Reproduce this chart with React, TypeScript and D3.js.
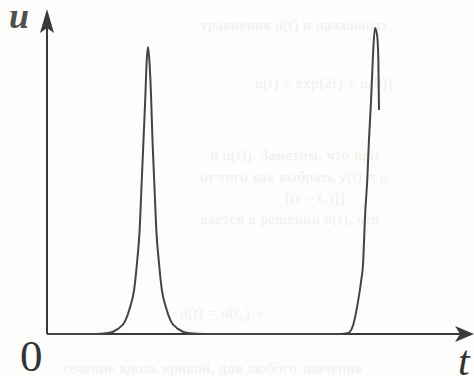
import { useEffect, useRef } from "react";
import * as d3 from "d3";

// pulse profile u(t) (t in 0..10, u in 0..1)
const pulseT = [
  0, 1.12, 1.43, 1.66, 1.83, 1.94, 2.04, 2.11, 2.17, 2.21, 2.26, 2.3, 2.33, 2.365,
  2.4, 2.44, 2.47, 2.52, 2.56, 2.62, 2.69, 2.79, 2.9, 3.07, 3.3, 3.7,
  6.86, 7.05, 7.17, 7.27, 7.36, 7.4, 7.45, 7.5, 7.54, 7.59, 7.635, 7.68, 7.73, 7.76, 7.775,
];
const pulseU = [
  0, 0, 0.003, 0.017, 0.043, 0.087, 0.147, 0.24, 0.347, 0.48, 0.647, 0.78, 0.897, 0.957,
  0.907, 0.78, 0.647, 0.48, 0.347, 0.24, 0.147, 0.087, 0.043, 0.017, 0.003, 0,
  0, 0.003, 0.03, 0.097, 0.18, 0.23, 0.397, 0.513, 0.647, 0.78, 0.93, 1.02, 0.997, 0.913, 0.747,
];

const tMax = 10;
const uTop = 1.083;

// faint text showing through from the other side of the page
const ghostLines = [
  { text: "уравнения u(t) и начальных", x: 200, y: 30 },
  { text: "u(t) = exp(2t) + u(0)]", x: 255, y: 88 },
  { text: "и u(t)). Заметим, что при", x: 210, y: 160 },
  { text: "от того как выбрать y(t) = u", x: 200, y: 182 },
  { text: "[(t − t₀)]]", x: 285, y: 203 },
  { text: "ляется в решении u(t), что", x: 200, y: 224 },
  { text: "u(t) = u(t₀) + …", x: 180, y: 318 },
  { text: "течение вдоль кривой, для любого значения", x: 62, y: 373 },
];

export default function App() {
  const svgRef = useRef<SVGSVGElement>(null);
  const width = 474;
  const height = 376;

  useEffect(() => {
    if (!svgRef.current) return;
    const svg = d3.select(svgRef.current);
    svg.selectAll("*").remove();

    const x = d3.scaleLinear().domain([0, tMax]).range([47, 474]);
    const y = d3.scaleLinear().domain([0, 1]).range([334, 34]);

    svg.append("rect").attr("width", width).attr("height", height).attr("fill", "#fdfdfb");

    svg
      .append("g")
      .selectAll("text")
      .data(ghostLines)
      .join("text")
      .attr("x", (d) => d.x)
      .attr("y", (d) => d.y)
      .attr("font-family", "'Liberation Serif', serif")
      .attr("font-size", 15)
      .attr("letter-spacing", 0.5)
      .attr("fill", "#efefec")
      .text((d) => d.text);

    const axisColor = "#3a3a3a";
    const x0 = x(0);
    const y0 = y(0);
    const xEnd = x(tMax);
    const yEnd = y(uTop);

    // axes
    svg
      .append("line")
      .attr("x1", x0)
      .attr("y1", y0)
      .attr("x2", xEnd - 6)
      .attr("y2", y0)
      .attr("stroke", axisColor)
      .attr("stroke-width", 2);
    svg
      .append("line")
      .attr("x1", x0)
      .attr("y1", y0)
      .attr("x2", x0)
      .attr("y2", yEnd + 8)
      .attr("stroke", axisColor)
      .attr("stroke-width", 2);

    // arrowheads
    svg
      .append("path")
      .attr(
        "d",
        `M${xEnd},${y0} L${xEnd - 19},${y0 - 8} L${xEnd - 14},${y0} L${xEnd - 19},${y0 + 8} Z`
      )
      .attr("fill", axisColor);
    svg
      .append("path")
      .attr(
        "d",
        `M${x0},${yEnd} L${x0 - 7},${yEnd + 24} L${x0},${yEnd + 19} L${x0 + 7},${yEnd + 24} Z`
      )
      .attr("fill", axisColor);

    // curve
    const pts = pulseT.map((t, i) => [t, pulseU[i]] as [number, number]);
    const line = d3
      .line<[number, number]>()
      .x((d) => x(d[0]))
      .y((d) => y(d[1]))
      .curve(d3.curveMonotoneX);
    svg
      .append("path")
      .attr("d", line(pts) ?? "")
      .attr("fill", "none")
      .attr("stroke", "#444")
      .attr("stroke-width", 2)
      .attr("stroke-linejoin", "round");

    // labels
    svg
      .append("text")
      .attr("x", 9)
      .attr("y", 28)
      .attr("font-family", "'Liberation Serif', serif")
      .attr("font-style", "italic")
      .attr("font-weight", "bold")
      .attr("font-size", 36)
      .attr("fill", "#505050")
      .text("u");
    svg
      .append("text")
      .attr("x", 20)
      .attr("y", 371)
      .attr("font-family", "'Liberation Serif', serif")
      .attr("font-size", 45)
      .attr("fill", "#333")
      .text("0");
    svg
      .append("text")
      .attr("x", 458)
      .attr("y", 375)
      .attr("font-family", "'Liberation Serif', serif")
      .attr("font-style", "italic")
      .attr("font-size", 42)
      .attr("fill", "#333")
      .text("t");
  }, []);

  return (
    <div style={{ position: "fixed", left: 0, top: 0 }}>
      <svg ref={svgRef} width={width} height={height} style={{ display: "block" }} />
    </div>
  );
}
